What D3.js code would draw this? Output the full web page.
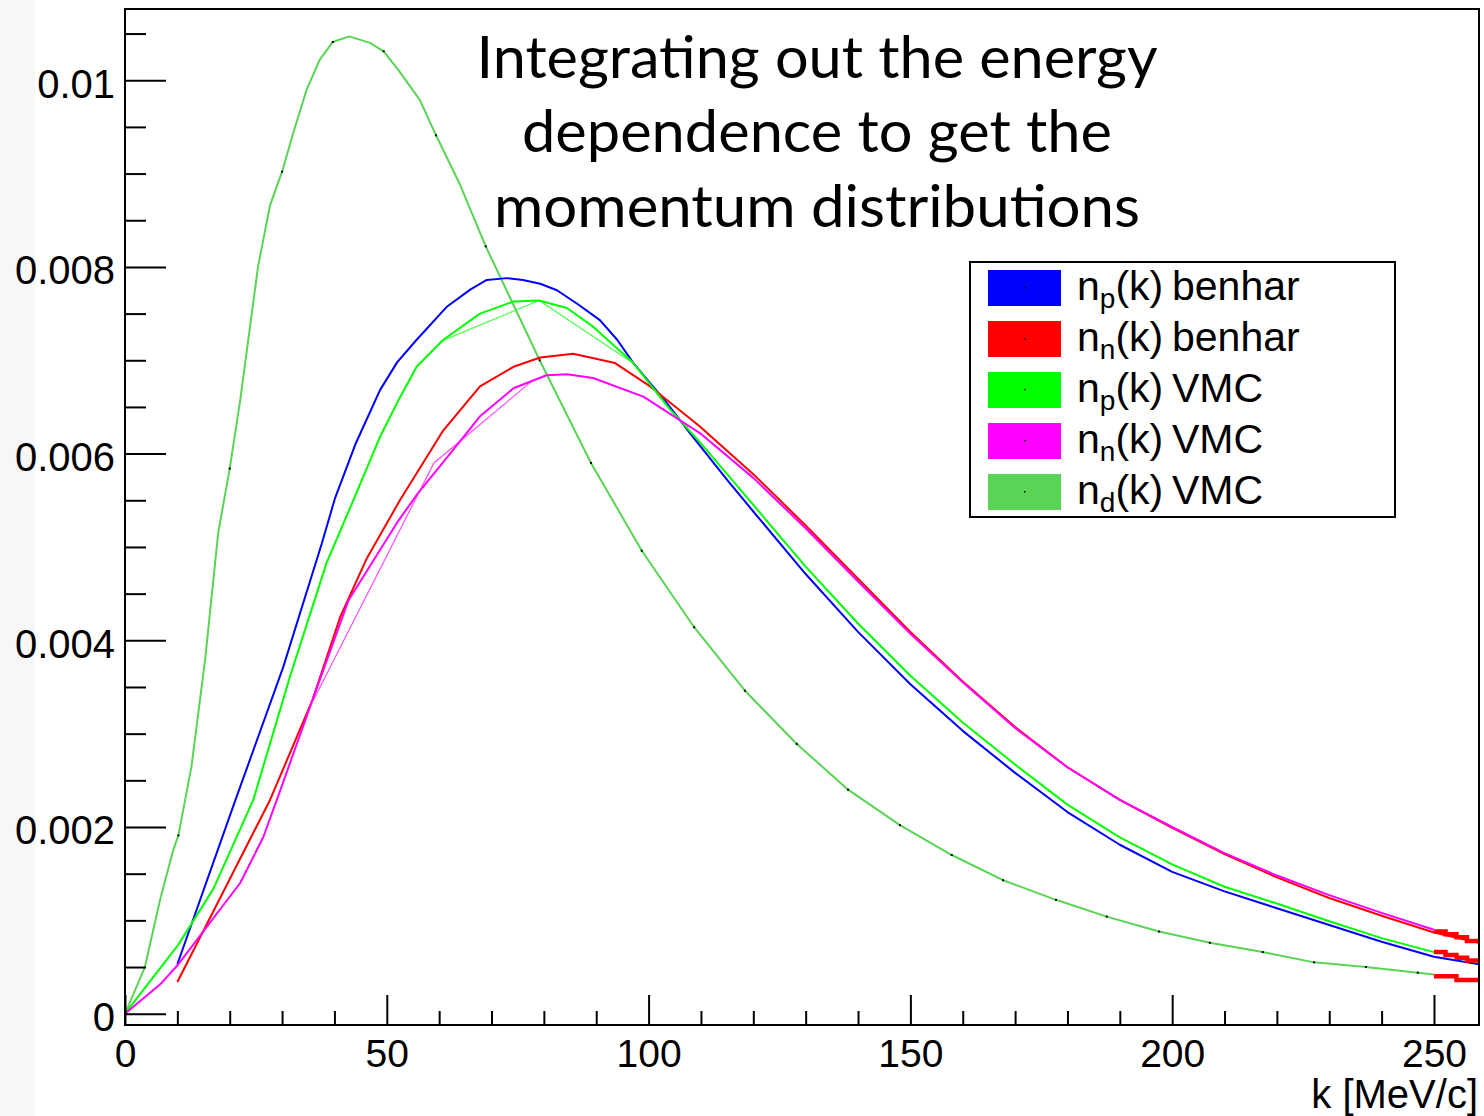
<!DOCTYPE html>
<html><head><meta charset="utf-8">
<script src="https://cdn.jsdelivr.net/npm/d3@7"></script>
<style>body{margin:0;background:#fff}svg{display:block}</style>
</head><body><svg id="c" width="1484" height="1116"></svg>
<script>
// ---------- data (k [MeV/c], n(k)) ----------
const npBenhar = [[10,0.00053],[21.1,0.00229],[30.2,0.00371],[37.6,0.00504],[40.1,0.00552],[44,0.0061],[48.7,0.00668],[52,0.00698],[55.7,0.00722],[61.4,0.00757],[66,0.00776],[69.1,0.00786],[72.9,0.00788],[76,0.00786],[79.3,0.00782],[82.5,0.00775],[86.5,0.0076],[90.7,0.00743],[94,0.00722],[97.1,0.00697],[103.5,0.00654],[107.9,0.00622],[115,0.00572],[120,0.00538],[130,0.00471],[140,0.00409],[150,0.00353],[160,0.00303],[170,0.00258],[180,0.00216],[190,0.00181],[200,0.00152],[210,0.00131],[220,0.00113],[230,0.00095],[240,0.00077],[250,0.00061],[258.6,0.00053]];
const nnBenhar = [[10,0.00034],[27.7,0.00229],[35.8,0.00336],[41.1,0.00425],[46.2,0.00488],[52.5,0.0055],[60.8,0.00625],[67.8,0.00672],[74.2,0.00693],[79.3,0.00703],[85.6,0.00707],[93.6,0.00697],[100.3,0.00672],[109.8,0.00629],[120,0.00578],[130,0.00523],[140,0.00466],[150,0.00409],[160,0.00356],[170,0.00307],[180,0.00264],[190,0.00229],[200,0.00199],[210,0.00171],[220,0.00146],[230,0.00124],[240,0.00105],[250,0.00087],[258.6,0.00076]];
const npVMC = [[0,0],[10.2,0.00074],[16.9,0.00134],[24.5,0.00229],[31.5,0.00361],[38.5,0.00483],[43.6,0.0055],[48.7,0.00618],[52.2,0.00657],[55.7,0.00693],[60.8,0.00722],[67.8,0.0075],[74.2,0.00763],[79.1,0.00764],[84.4,0.00756],[89.4,0.00736],[97.1,0.00697],[104,0.00648],[110,0.00611],[120,0.00545],[130,0.00479],[140,0.00418],[150,0.00362],[160,0.00312],[170,0.00267],[180,0.00224],[190,0.00189],[200,0.0016],[210,0.00136],[220,0.00118],[230,0.00099],[240,0.00081],[250,0.00066]];
const nnVMC = [[0,0],[7,0.00033],[10.2,0.00053],[22,0.0014],[26.4,0.00189],[29,0.00229],[35.8,0.00336],[42.7,0.00443],[52.2,0.00528],[56,0.00558],[62.1,0.006],[67.8,0.0064],[74.2,0.0067],[80.5,0.00684],[84.4,0.00685],[89.4,0.00681],[99,0.00661],[109.8,0.00622],[120,0.00574],[130,0.0052],[140,0.00463],[150,0.00407],[160,0.00355],[170,0.00306],[180,0.00264],[190,0.00229],[200,0.002],[210,0.00172],[220,0.00148],[230,0.00127],[240,0.00108],[250,0.0009]];
const ndVMC = [[0,0],[3.8,0.0005],[6.7,0.00122],[9.2,0.00175],[10.2,0.00191],[12.7,0.00265],[15.3,0.00379],[17.8,0.00515],[20,0.00584],[22,0.00657],[25.4,0.008],[27.7,0.00866],[30,0.00902],[32.1,0.00943],[34.7,0.0099],[37.2,0.01022],[39.7,0.01041],[42.8,0.01047],[46.8,0.0104],[49.4,0.01031],[52.2,0.01011],[56.3,0.00979],[59.4,0.00941],[64,0.00888],[68.9,0.00822],[79.2,0.007],[89,0.0059],[98.7,0.00496],[108.7,0.00414],[118.4,0.00346],[128.3,0.00289],[138.1,0.0024],[148,0.00202],[157.9,0.0017],[167.7,0.00143],[177.8,0.00122],[187.5,0.00104],[197.5,0.00088],[207.2,0.00076],[217.3,0.00066],[227.1,0.00055],[237,0.0005],[246.9,0.00044],[250,0.00042]];
const ndMarkerK = [10.2,20,30,39.7,49.4,59.4,68.9,79.2,89,98.7,108.7,118.4,128.3,138.1,148,157.9,167.7,177.8,187.5,197.5,207.2,217.3,227.1,237,246.9];
// stray connecting segments visible in the original
const npVMCStray = [[60.2,0.0072],[79.1,0.00764],[97,0.00697]];
const nnVMCStray = [[36,0.00336],[59,0.0059],[78,0.00679]];
// last-bin histogram steps (red)
const stepEdges = [250,252.2,254.3,256.3,258.6];
const stepTop = [0.00088,0.00085,0.00082,0.00078];
const stepMid = [0.00066,0.00063,0.0006,0.00057];
const stepLow = [0.0004,0.0004,0.00036,0.00036];

const xMajor = [0,50,100,150,200,250];
const xMajorLabels = ["0","50","100","150","200","250"];
const xMinor = [10,20,30,40,60,70,80,90,110,120,130,140,160,170,180,190,210,220,230,240];
const yMajor = [0,0.002,0.004,0.006,0.008,0.01];
const yMajorLabels = ["0","0.002","0.004","0.006","0.008","0.01"];
const yMinor = [0.0005,0.001,0.0015,0.0025,0.003,0.0035,0.0045,0.005,0.0055,0.0065,0.007,0.0075,0.0085,0.009,0.0095,0.0105];

const legendSubs = ["p","n","p","n","d"];
const legendNames = ["benhar","benhar","VMC","VMC","VMC"];
const seriesColors = ["#0000ff","#ff0000","#00ff00","#ff00ff","#59d454"];
const titleLines = ["Integrating out the energy","dependence to get the","momentum distributions"];
const xTitle = "k [MeV/c]";

// ---------- layout ----------
const svg = d3.select("#c");
const L = 125, R = 1479, T = 9, B = 1025;
const x = d3.scaleLinear().domain([0,258.6]).range([L,R]);
const y = d3.scaleLinear().domain([-0.000121,0.010763]).range([B,T]);
const FONT = "'Liberation Sans', Arial, Helvetica, sans-serif";

svg.append("rect").attr("x",0).attr("y",0).attr("width",1484).attr("height",1116).attr("fill","#fff");
svg.append("rect").attr("x",0).attr("y",0).attr("width",35).attr("height",1116).attr("fill","#f7f7f7");

svg.append("defs").append("clipPath").attr("id","clip")
  .append("rect").attr("x",L).attr("y",T).attr("width",R-L).attr("height",B-T);

const plot = svg.append("g").attr("clip-path","url(#clip)");
const line = d3.line().x(d=>x(d[0])).y(d=>y(d[1]));

// stray thin segments
plot.append("path").datum(npVMCStray).attr("d",line).attr("fill","none")
  .attr("stroke",seriesColors[2]).attr("stroke-width",1.2).attr("opacity",0.7);
plot.append("path").datum(nnVMCStray).attr("d",line).attr("fill","none")
  .attr("stroke",seriesColors[3]).attr("stroke-width",1.2).attr("opacity",0.7);

const series = [npBenhar,nnBenhar,npVMC,nnVMC,ndVMC];
const drawOrder = [4,0,1,2,3];
drawOrder.forEach(i=>{
  plot.append("path").datum(series[i]).attr("d",line).attr("fill","none")
    .attr("stroke",seriesColors[i]).attr("stroke-width",2).attr("stroke-linejoin","round");
});

// nd markers
const ndMarkers = ndVMC.filter(d=>ndMarkerK.includes(d[0]));
plot.selectAll("rect.mk").data(ndMarkers).join("rect").attr("class","mk")
  .attr("x",d=>x(d[0])-1).attr("y",d=>y(d[1])-1).attr("width",2).attr("height",2).attr("fill","#000");

// red steps
const stepLine = d3.line().x(d=>x(d[0])).y(d=>y(d[1])).curve(d3.curveStepAfter);
[stepTop,stepMid,stepLow].forEach(vals=>{
  const pts = stepEdges.map((e,j)=>[e, vals[Math.min(j,vals.length-1)]]);
  plot.append("path").datum(pts).attr("d",stepLine).attr("fill","none")
    .attr("stroke","#ff0000").attr("stroke-width",4.5);
});

// frame
svg.append("rect").attr("x",L).attr("y",T).attr("width",R-L).attr("height",B-T)
  .attr("fill","none").attr("stroke","#000").attr("stroke-width",2);

// x axis ticks
const gx = svg.append("g").attr("transform",`translate(0,${B})`);
gx.call(d3.axisBottom(x).tickValues(xMajor).tickSize(-30).tickSizeOuter(0)
  .tickFormat((d,i)=>xMajorLabels[i]));
gx.call(g=>g.select(".domain").remove());
gx.selectAll(".tick line").attr("stroke","#000").attr("stroke-width",2);
gx.selectAll(".tick text").attr("y",42).attr("dy",0).attr("fill","#000")
  .style("font-family",FONT).style("font-size","39px");
const gxm = svg.append("g").attr("transform",`translate(0,${B})`);
gxm.call(d3.axisBottom(x).tickValues(xMinor).tickSize(-14).tickSizeOuter(0).tickFormat(""));
gxm.call(g=>g.select(".domain").remove());
gxm.selectAll(".tick line").attr("stroke","#000").attr("stroke-width",2);

// y axis ticks
const gy = svg.append("g").attr("transform",`translate(${L},0)`);
gy.call(d3.axisLeft(y).tickValues(yMajor).tickSize(-41).tickSizeOuter(0)
  .tickFormat((d,i)=>yMajorLabels[i]));
gy.call(g=>g.select(".domain").remove());
gy.selectAll(".tick line").attr("stroke","#000").attr("stroke-width",2);
gy.selectAll(".tick text").attr("x",-10).attr("dy","0.42em").attr("fill","#000")
  .style("font-family",FONT).style("font-size","40px");
const gym = svg.append("g").attr("transform",`translate(${L},0)`);
gym.call(d3.axisLeft(y).tickValues(yMinor).tickSize(-21).tickSizeOuter(0).tickFormat(""));
gym.call(g=>g.select(".domain").remove());
gym.selectAll(".tick line").attr("stroke","#000").attr("stroke-width",2);

// x title
svg.append("text").attr("x",1478).attr("y",1108).attr("text-anchor","end")
  .style("font-family",FONT).style("font-size","40px").attr("fill","#000").text(xTitle);

// title
const titleY = [78,152,227];
const titleW = [681,590,646];
titleLines.forEach((t,i)=>{
  svg.append("text").attr("x",817).attr("y",titleY[i]).attr("text-anchor","middle")
    .attr("textLength",titleW[i]).attr("lengthAdjust","spacingAndGlyphs")
    .style("font-family","Lato, 'Open Sans', sans-serif").style("font-size","58px")
    .attr("fill","#000").text(t);
});

// legend
const lg = svg.append("g");
lg.append("rect").attr("x",970).attr("y",262).attr("width",425).attr("height",255)
  .attr("fill","#fff").attr("stroke","#000").attr("stroke-width",2);
legendNames.forEach((name,i)=>{
  const ty = 270 + i*51;
  lg.append("rect").attr("x",988).attr("y",ty).attr("width",73).attr("height",36).attr("fill",seriesColors[i]);
  lg.append("rect").attr("x",1024).attr("y",ty+17).attr("width",1.5).attr("height",1.5).attr("fill","#000");
  const base = ty + 30;
  const t = lg.append("text").attr("x",1077).attr("y",base)
    .style("font-family",FONT).style("font-size","41px").attr("fill","#000");
  t.append("tspan").text("n");
  t.append("tspan").attr("dy",8).style("font-size","28px").text(legendSubs[i]);
  t.append("tspan").attr("dy",-8).text("(k)");
  lg.append("text").attr("x",1172).attr("y",base)
    .style("font-family",FONT).style("font-size","41px").attr("fill","#000").text(name);
});
</script>
</body></html>
